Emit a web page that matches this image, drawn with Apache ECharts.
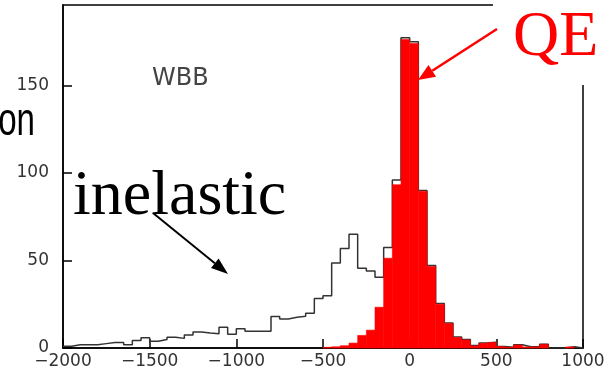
<!DOCTYPE html>
<html>
<head>
<meta charset="utf-8">
<script src="https://cdn.jsdelivr.net/npm/echarts@6/dist/echarts.min.js"></script>
<style>
  html, body { margin: 0; padding: 0; background: #fff; }
  #chart { width: 613px; height: 374px; }
</style>
</head>
<body>
<div id="chart"></div>
<script>
// lower edge of each 50-wide bin
const binLow = [
  -2000, -1950, -1900, -1850, -1800, -1750, -1700, -1650, -1600, -1550,
  -1500, -1450, -1400, -1350, -1300, -1250, -1200, -1150, -1100, -1050,
  -1000, -950, -900, -850, -800, -750, -700, -650, -600, -550,
  -500, -450, -400, -350, -300, -250, -200, -150, -100, -50,
  0, 50, 100, 150, 200, 250, 300, 350, 400, 450,
  500, 550, 600, 650, 700, 750, 800, 850, 900, 950
];
const binWidth = 50;

// all events (black outline)
const totalCounts = [
  1, 1.8, 1.8, 1.8, 2.5, 3.2, 3.2, 1.9, 4.3, 5.9,
  3.8, 4.8, 6.2, 5.5, 7.4, 9.1, 8.6, 8.2, 11.8, 7.8,
  11, 9.6, 9.6, 9.6, 18, 16.6, 17.6, 18.2, 19.8, 28.3,
  29.9, 48.6, 56.8, 65, 45.6, 44, 40.5, 57.5, 96, 177.3,
  175, 90, 47.2, 25.4, 14.3, 6.3, 4.8, 1.4, 2.8, 3.3,
  0.9, 0.5, 1.8, 0.7, 0.7, 2.2, 0, 0, 0.7, 0
];

// QE events (red fill)
const qeCounts = [
  0, 0, 0, 0, 0, 0, 0, 0, 0, 0,
  0, 0, 0, 0, 0, 0, 0, 0, 0, 0,
  0, 0, 0, 0, 0, 0, 0, 0, 0, 0,
  0.4, 0.7, 1.3, 2.8, 7.2, 10.2, 23.3, 51.3, 93.3, 176.3,
  174, 89.6, 46.6, 25, 14, 6, 4.6, 1.2, 2.7, 3.2,
  0.8, 0.4, 1.7, 0.6, 0.6, 2.1, 0, 0, 0.6, 0
];

const xTicks = { min: -2000, max: 1000, step: 500 };
const yTicks = { min: 0, max: 196, step: 50 };

const chart = echarts.init(document.getElementById('chart'));

// step line through bin edges, closed at the last upper edge
const totalLine = binLow.map((x, i) => [x, totalCounts[i]]);
totalLine.push([binLow[binLow.length - 1] + binWidth, totalCounts[totalCounts.length - 1]]);

const qeBars = binLow.map((x, i) => [x, x + binWidth, qeCounts[i]]);

const minus = v => String(v).replace('-', '\u2212');

function arrowHead(tip, from, len, half) {
  const dx = tip[0] - from[0], dy = tip[1] - from[1];
  const d = Math.sqrt(dx * dx + dy * dy);
  const ux = dx / d, uy = dy / d;
  const bx = tip[0] - ux * len, by = tip[1] - uy * len;
  return {
    back: [bx, by],
    points: [tip, [bx - uy * half, by + ux * half], [bx + uy * half, by - ux * half]]
  };
}

const blackHead = arrowHead([228, 274], [153, 213], 17, 6);
const redHead = arrowHead([418, 80], [497, 29], 17, 7);

const option = {
  animation: false,
  backgroundColor: '#fff',
  grid: {
    left: 63, right: 30, top: 5, bottom: 26,
    show: true,
    borderColor: '#000',
    borderWidth: 1.5
  },
  xAxis: {
    type: 'value',
    min: xTicks.min,
    max: xTicks.max,
    interval: xTicks.step,
    axisLine: { onZero: false, lineStyle: { color: '#000', width: 1.5 } },
    axisTick: { inside: true, length: 9, lineStyle: { color: '#000', width: 1.5 } },
    axisLabel: {
      margin: 5,
      fontFamily: 'DejaVu Sans',
      fontSize: 17,
      color: '#333',
      formatter: minus
    },
    splitLine: { show: false }
  },
  yAxis: {
    type: 'value',
    min: yTicks.min,
    max: yTicks.max,
    interval: yTicks.step,
    axisLine: { show: true, onZero: false, lineStyle: { color: '#000', width: 1.5 } },
    axisTick: { show: true, inside: true, length: 9, lineStyle: { color: '#000', width: 1.5 } },
    axisLabel: {
      margin: 14,
      showMaxLabel: false,
      fontFamily: 'DejaVu Sans',
      fontSize: 17,
      color: '#333'
    },
    splitLine: { show: false }
  },
  series: [
    {
      name: 'all',
      type: 'line',
      step: 'end',
      data: totalLine,
      symbol: 'none',
      lineStyle: { color: '#333', width: 1.5 },
      z: 2
    },
    {
      name: 'QE',
      type: 'custom',
      data: qeBars,
      encode: { x: [0, 1], y: 2 },
      renderItem: function (params, api) {
        if (!(api.value(2) > 0)) return null;
        const p0 = api.coord([api.value(0), api.value(2)]);
        const p1 = api.coord([api.value(1), 0]);
        return {
          type: 'rect',
          shape: { x: p0[0], y: p0[1], width: p1[0] - p0[0], height: p1[1] - p0[1] },
          style: { fill: '#ff0000', stroke: '#ff0000', lineWidth: 0.6 }
        };
      },
      z: 3
    }
  ],
  graphic: [
    // white text box hiding the top-right corner of the frame
    { type: 'rect', z: 50, shape: { x: 493, y: 0, width: 120, height: 85 }, style: { fill: '#fff' } },
    {
      type: 'text', z: 60, x: 152, y: 79,
      style: { text: 'WBB', font: '24px "DejaVu Sans"', fill: '#444', verticalAlign: 'middle' }
    },
    {
      type: 'text', z: 60, x: 73, y: 197,
      style: { text: 'inelastic', font: '64px "Liberation Serif"', fill: '#000', verticalAlign: 'middle' }
    },
    {
      type: 'text', z: 60, x: 513, y: 38,
      style: { text: 'QE', font: '64px "Liberation Serif"', fill: '#ff0000', verticalAlign: 'middle' }
    },
    {
      type: 'text', z: 60, x: 35, y: 122, scaleX: 0.72,
      style: { text: 'on', font: '46px "Liberation Sans"', fill: '#000', align: 'right', verticalAlign: 'middle' }
    },
    {
      type: 'line', z: 60,
      shape: { x1: 153, y1: 213, x2: blackHead.back[0], y2: blackHead.back[1] },
      style: { stroke: '#000', lineWidth: 2 }
    },
    { type: 'polygon', z: 60, shape: { points: blackHead.points }, style: { fill: '#000' } },
    {
      type: 'line', z: 60,
      shape: { x1: 497, y1: 29, x2: redHead.back[0], y2: redHead.back[1] },
      style: { stroke: '#ff0000', lineWidth: 2.5 }
    },
    { type: 'polygon', z: 60, shape: { points: redHead.points }, style: { fill: '#ff0000' } }
  ]
};

chart.setOption(option);
</script>
</body>
</html>
